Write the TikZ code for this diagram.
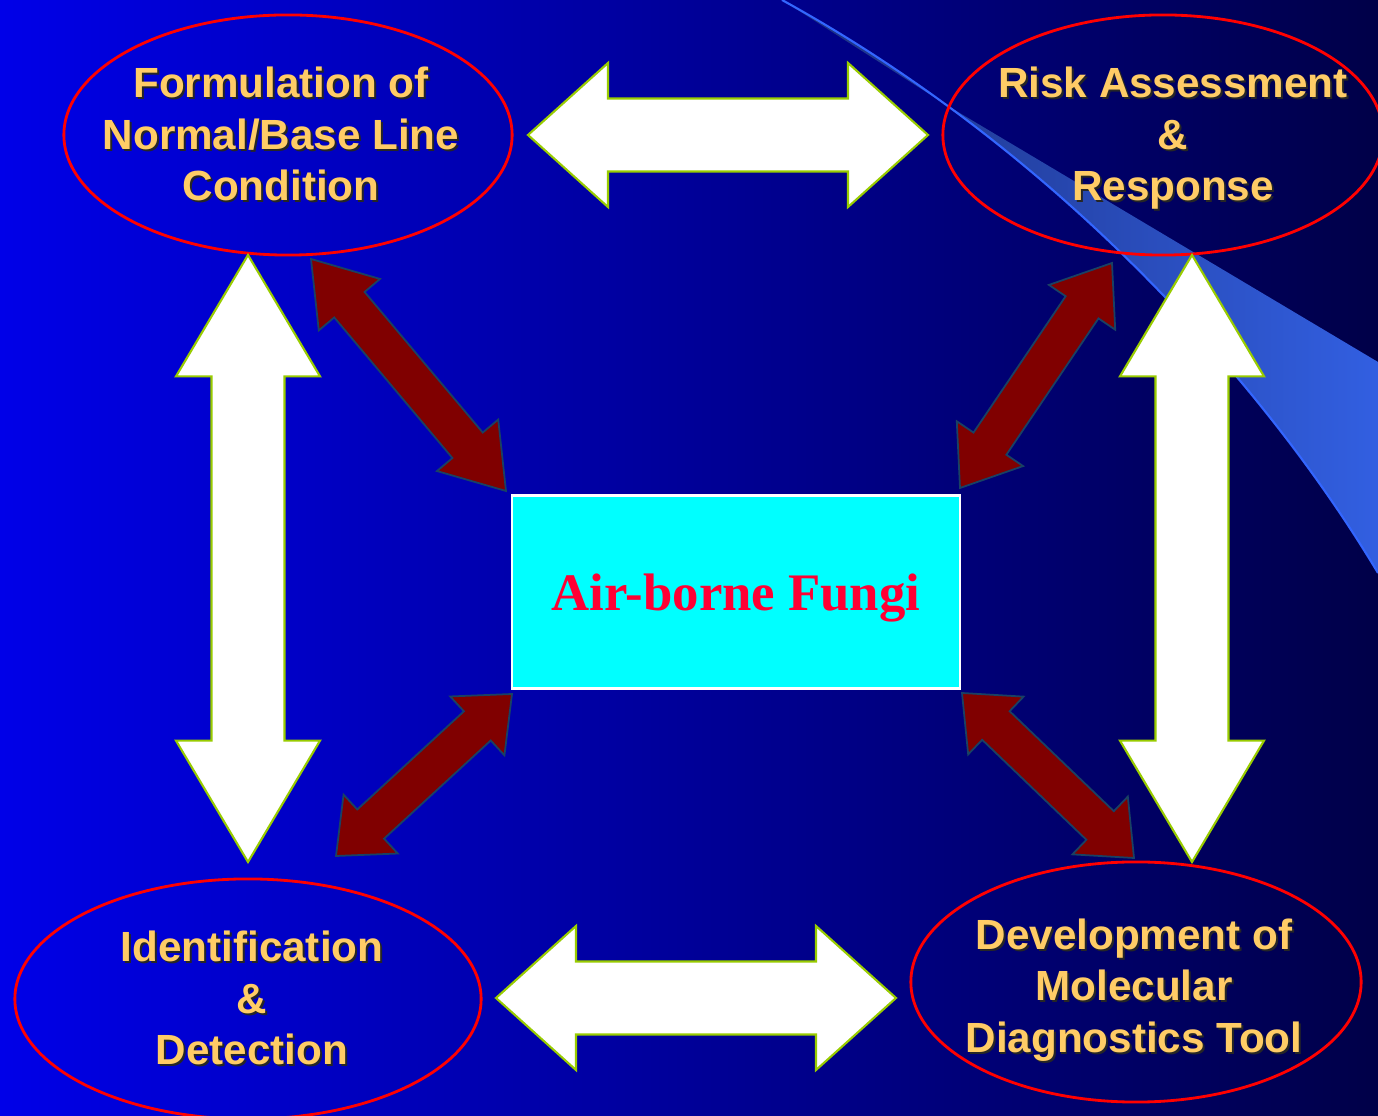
\documentclass[tikz,border=0pt]{standalone}
\usepackage{fontspec}
\setmainfont{Liberation Serif}
\setsansfont{Liberation Sans}
\usepackage{tikz}
\usetikzlibrary{calc, shapes.geometric}
\definecolor{bgleft}{RGB}{0, 0, 232}
\definecolor{bgright}{RGB}{0, 0, 72}
\definecolor{swooshdark}{RGB}{28, 48, 128}
\definecolor{swooshlight}{RGB}{50, 95, 225}
\definecolor{swooshline}{RGB}{51, 102, 255}
\definecolor{ringred}{RGB}{255, 0, 0}
\definecolor{labelgold}{RGB}{255, 204, 102}
\definecolor{arrowrim}{RGB}{153, 204, 0}
\definecolor{linkred}{RGB}{128, 0, 0}
\definecolor{linkrim}{RGB}{25, 65, 100}
\definecolor{boxcyan}{RGB}{0, 255, 255}
\definecolor{fungired}{RGB}{255, 0, 51}

% text with a small drop shadow
\newcommand{\shd}[1]{\leavevmode\rlap{\kern0.55pt\raisebox{-0.55pt}{\color{black!85}#1}}#1}

% double block arrow: style, end A, end B, head fraction, head half width, shaft half width
\newcommand{\dblarrow}[6]{%
  \path ($(#2)!#4!(#3)$) coordinate (ha) ($(#3)!#4!(#2)$) coordinate (hb);
  \draw[#1] (#2) -- ($(ha)!#5!90:(#2)$) -- ($(ha)!#6!90:(#2)$)
    -- ($(hb)!#6!-90:(#3)$) -- ($(hb)!#5!-90:(#3)$) -- (#3)
    -- ($(hb)!#5!90:(#3)$) -- ($(hb)!#6!90:(#3)$)
    -- ($(ha)!#6!-90:(#2)$) -- ($(ha)!#5!-90:(#2)$) -- cycle;
}

\begin{document}
\begin{tikzpicture}[
    x=0.01cm, y=-0.01cm,
    bubble/.style={ellipse, draw=ringred, line width=0.8pt, minimum width=#1, minimum height=2.4cm, inner sep=0pt},
    bubbletext/.style={text=labelgold, font=\sffamily\bfseries\fontsize{12}{14.65}\selectfont, align=center, inner sep=0pt},
    bigarrow/.style={fill=white, draw=arrowrim, line width=0.6pt},
    link/.style={fill=linkred, draw=linkrim, line width=0.5pt},
    fungibox/.style={rectangle, fill=boxcyan, draw=white, line width=0.7pt, minimum width=4.48cm, minimum height=1.93cm, text=fungired, font=\bfseries\fontsize{15}{18}\selectfont, text depth=0pt}
]

% Background
\useasboundingbox (0,0) rectangle (1378,1116);
\shade[left color=bgleft, right color=bgright] (0,0) rectangle (1378,1116);

% Swoosh
\begin{scope}
\clip (0,0) rectangle (1378,1116);
\shade[left color=swooshdark, right color=swooshlight] (782,0) .. controls (1062,154) and (1268,389) .. (1378,573)
    -- (1378,362) -- (948,106) -- cycle;
\draw[swooshline, line width=0.6pt] (782,0) .. controls (1062,154) and (1268,389) .. (1378,573);
\end{scope}

% Ellipses
\node[bubble=4.48cm] (form) at (288,135) {};
\node[bubble=4.40cm] (risk) at (1163,135) {};
\node[bubble=4.66cm] (ident) at (248,999) {};
\node[bubble=4.50cm] (devel) at (1136,982) {};

\node[bubbletext] (formtext) at (281,135) {\shd{Formulation of}\\\shd{Normal/Base Line}\\\shd{Condition}};
\node[bubbletext] (risktext) at (1173,139.5) {\shd{Risk Assessment}\\\shd{\&}\\\shd{Response}};
\node[bubbletext] (identtext) at (252,999) {\shd{Identification}\\\shd{\&}\\\shd{Detection}};
\node[bubbletext] (develtext) at (1134,991) {\shd{Development of}\\\shd{Molecular}\\\shd{Diagnostics Tool}};

% White arrows
\coordinate (topL) at (528,135);    \coordinate (topR) at (928,135);
\coordinate (botL) at (496,998);    \coordinate (botR) at (896,998);
\coordinate (leftT) at (248,255);   \coordinate (leftB) at (248,862);
\coordinate (rightT) at (1192,255); \coordinate (rightB) at (1192,862);
\foreach \a/\b in {topL/topR, botL/botR, leftT/leftB, rightT/rightB}
    \dblarrow{bigarrow}{\a}{\b}{0.2}{0.72cm}{0.365cm};

% Dark red arrows
\coordinate (formlnk) at (311,259);  \coordinate (fnw) at (506,491);
\coordinate (risklnk) at (1112,263); \coordinate (fne) at (960,488);
\coordinate (identlnk) at (336,856); \coordinate (fsw) at (512,694);
\coordinate (devellnk) at (1134,858); \coordinate (fse) at (962,693);
\foreach \a/\b in {formlnk/fnw, risklnk/fne, identlnk/fsw, devellnk/fse}
    \dblarrow{link}{\a}{\b}{0.197}{0.4cm}{0.198cm};

% Centre box
\node[fungibox] (fungi) at (736,592) {Air-borne Fungi};

\end{tikzpicture}
\end{document}
